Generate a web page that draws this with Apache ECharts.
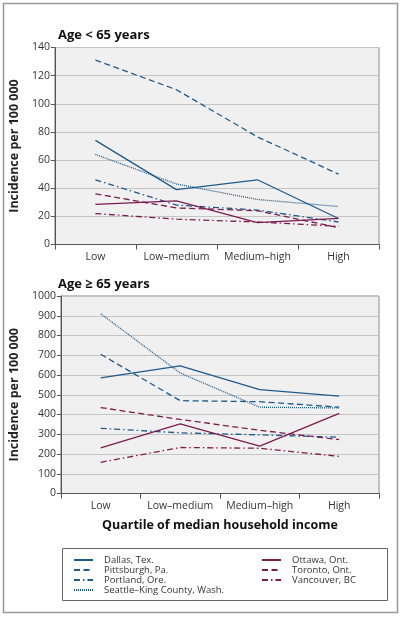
<!DOCTYPE html>
<html><head><meta charset="utf-8">
<script src="https://cdn.jsdelivr.net/npm/echarts@6/dist/echarts.min.js"></script>
<style>html,body{margin:0;padding:0;background:#fff}#c{width:402px;height:618px}</style>
</head><body><div id="c"></div>
<script>
const categories = ['Low', 'Low–medium', 'Medium–high', 'High'];
const cities = ['Dallas, Tex.', 'Pittsburgh, Pa.', 'Portland, Ore.', 'Seattle–King County, Wash.', 'Ottawa, Ont.', 'Toronto, Ont.', 'Vancouver, BC'];
// Age < 65 years
const under65_dallas = [74, 39, 46, 18.5];
const under65_pittsburgh = [131, 110, 76.5, 50];
const under65_portland = [46, 28, 24.5, 16];
const under65_seattle = [64, 43, 32, 27];
const under65_ottawa = [28.5, 31, 15.5, 18.5];
const under65_toronto = [36, 26, 24, 12];
const under65_vancouver = [22, 18, 16, 13];
// Age >= 65 years
const over65_dallas = [585, 646, 526, 493];
const over65_pittsburgh = [705, 470, 465, 437];
const over65_portland = [330, 307, 297, 285];
const over65_seattle = [910, 610, 437, 433];
const over65_ottawa = [231, 352, 240, 406];
const over65_toronto = [435, 375, 320, 273];
const over65_vancouver = [158, 233, 229, 188];

const under65 = [under65_dallas, under65_pittsburgh, under65_portland, under65_seattle, under65_ottawa, under65_toronto, under65_vancouver];
const over65 = [over65_dallas, over65_pittsburgh, over65_portland, over65_seattle, over65_ottawa, over65_toronto, over65_vancouver];

const BLUE = '#1f5a8c', MAROON = '#7b1c4f';
const styles = [
  {color: BLUE, type: 'solid'},
  {color: BLUE, type: [6, 3.5]},
  {color: BLUE, type: [6, 3, 1.5, 3]},
  {color: BLUE, type: [1, 1]},
  {color: MAROON, type: 'solid'},
  {color: MAROON, type: [6, 3.5]},
  {color: MAROON, type: [6, 3, 1.5, 3]}
];
const FONT = 'Open Sans';

function mkSeries(dataSets, idx) {
  return dataSets.map((d, i) => ({
    name: cities[i], type: 'line', xAxisIndex: idx, yAxisIndex: idx,
    data: d, symbol: 'none', showSymbol: false, animation: false,
    color: styles[i].color,
    lineStyle: {color: styles[i].color, width: 1.3, type: styles[i].type},
    emphasis: {disabled: true}
  }));
}

function xAx(idx, extra) {
  return Object.assign({
    type: 'category', gridIndex: idx, data: categories, boundaryGap: true,
    axisLine: {show: true, lineStyle: {color: '#555', width: 1}},
    axisTick: {show: true, length: 5, interval: 0, lineStyle: {color: '#555'}},
    axisLabel: {color: '#333', fontSize: 10.5, fontFamily: FONT, margin: 7, interval: 0},
    splitLine: {show: false}
  }, extra || {});
}
function yAx(idx, max, interval) {
  return {
    type: 'value', gridIndex: idx, min: 0, max: max, interval: interval,
    axisLine: {show: true, lineStyle: {color: '#555', width: 1}},
    axisTick: {show: true, length: 4, lineStyle: {color: '#555'}},
    axisLabel: {color: '#333', fontSize: 10.5, fontFamily: FONT, margin: 5, formatter: v => String(v)},
    splitLine: {show: true, lineStyle: {color: '#c4c4c4', width: 1}},
    name: 'Incidence per 100 000', nameLocation: 'middle', nameGap: 27,
    nameTextStyle: {fontSize: 12.5, fontWeight: 'bold', color: '#222', fontFamily: FONT}
  };
}

const legendText = {fontSize: 9.5, color: '#333', fontFamily: FONT, lineHeight: 8, padding: [0, 0, 0, 6]};
const legendCommon = {orient: 'vertical', top: 555, itemWidth: 19, itemHeight: 6, itemGap: 0,
  selectedMode: false, textStyle: legendText, padding: 0, itemStyle: {opacity: 0}};
const option = {
  animation: false,
  textStyle: {fontFamily: FONT},
  title: [
    {text: 'Age < 65 years', left: 53, top: 24, textStyle: {fontSize: 13, fontWeight: 'bold', color: '#111', fontFamily: FONT}},
    {text: 'Age ≥ 65 years', left: 53, top: 273, textStyle: {fontSize: 13, fontWeight: 'bold', color: '#111', fontFamily: FONT}}
  ],
  grid: [
    {left: 54, top: 47.5, width: 325, height: 197, show: true, backgroundColor: '#f0f0f0', borderColor: '#888', borderWidth: 1},
    {left: 54, top: 296, width: 325, height: 197.5, show: true, backgroundColor: '#f0f0f0', borderColor: '#888', borderWidth: 1}
  ],
  xAxis: [
    xAx(0),
    xAx(1, {name: 'Quartile of median household income', nameLocation: 'middle', nameGap: 25,
      nameTextStyle: {fontSize: 12.5, fontWeight: 'bold', color: '#111', fontFamily: FONT}})
  ],
  yAxis: [yAx(0, 140, 20), yAx(1, 1000, 100)],
  legend: [
    Object.assign({data: cities.slice(0, 4), left: 73}, legendCommon),
    Object.assign({data: cities.slice(4), left: 261}, legendCommon)
  ],
  graphic: [
    {type: 'rect', shape: {x: 3.5, y: 3.5, width: 394, height: 609}, style: {fill: 'none', stroke: '#999', lineWidth: 1.5}, silent: true, z: -1},
    {type: 'rect', shape: {x: 62.5, y: 548.5, width: 325, height: 52}, style: {fill: 'none', stroke: '#666', lineWidth: 1}, silent: true}
  ],
  series: mkSeries(under65, 0).concat(mkSeries(over65, 1))
};
const chart = echarts.init(document.getElementById('c'), null, {renderer: 'canvas'});
chart.setOption(option);
</script>
</body></html>
